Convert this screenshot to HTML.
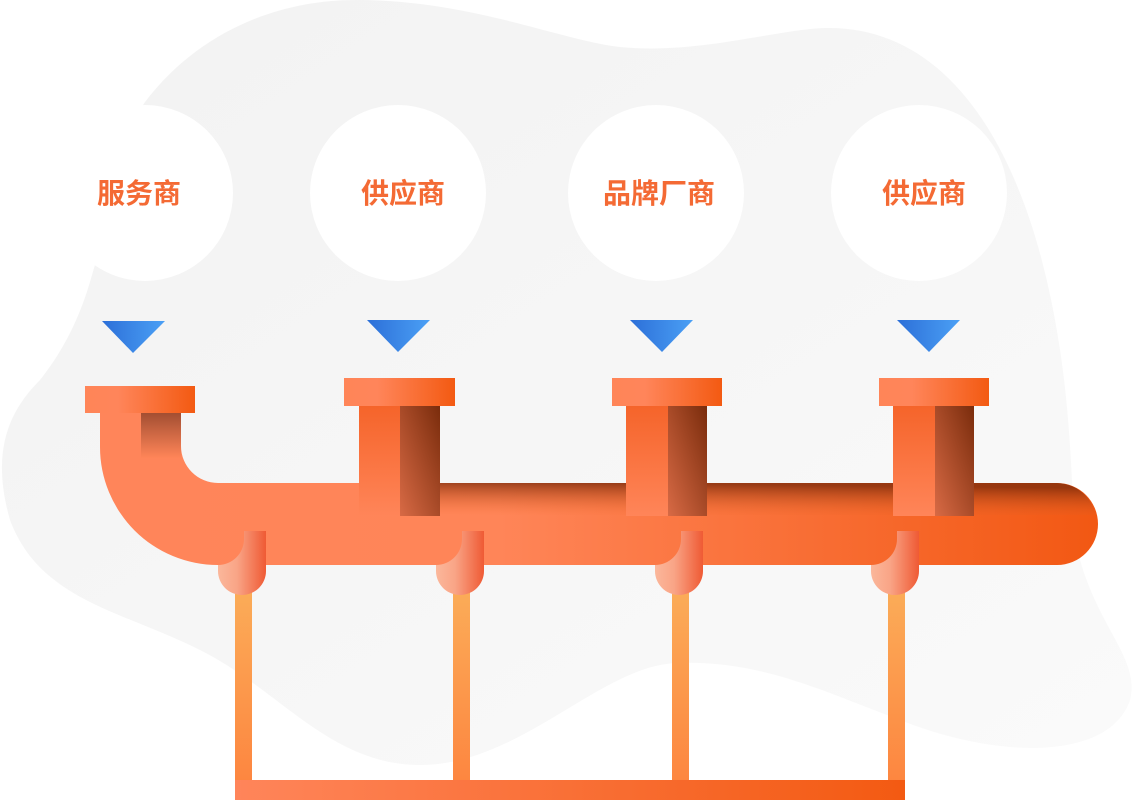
<!DOCTYPE html>
<html><head><meta charset="utf-8"><style>
html,body{margin:0;padding:0;background:#fff;width:1140px;height:800px;overflow:hidden}
svg text{font-family:"Liberation Sans","Noto Sans CJK SC",sans-serif;font-weight:bold;font-size:28px;fill:#f46a34}
</style></head><body>
<svg width="1140" height="800" viewBox="0 0 1140 800" xmlns="http://www.w3.org/2000/svg">
<defs>
<linearGradient id="blob" x1="0" y1="0" x2="1" y2="1"><stop offset="0" stop-color="#f2f2f2"/><stop offset="1" stop-color="#fafafa"/></linearGradient>
<linearGradient id="tri" x1="0" y1="0" x2="1" y2="0"><stop offset="0" stop-color="#2c6fd8"/><stop offset="1" stop-color="#4ba0f5"/></linearGradient>
<linearGradient id="fl" x1="0" y1="0" x2="1" y2="0"><stop offset="0" stop-color="#ff8558"/><stop offset="0.3" stop-color="#ff855a"/><stop offset="1" stop-color="#f35a12"/></linearGradient>
<linearGradient id="pipe" x1="0" y1="0" x2="1" y2="0"><stop offset="0" stop-color="#ff855a"/><stop offset="0.4" stop-color="#ff8558"/><stop offset="1" stop-color="#f25813"/></linearGradient>
<linearGradient id="top" x1="0" y1="1" x2="0.2" y2="0"><stop offset="0" stop-color="#f26a2a" stop-opacity="0"/><stop offset="1" stop-color="#7a2a0a" stop-opacity="0.85"/></linearGradient>
<linearGradient id="stem" x1="0" y1="0" x2="0" y2="1"><stop offset="0" stop-color="#f5642a"/><stop offset="1" stop-color="#ff8559"/></linearGradient>
<linearGradient id="dark" x1="1" y1="0" x2="0" y2="1"><stop offset="0" stop-color="#7a2c0c"/><stop offset="1" stop-color="#d86a45"/></linearGradient>
<linearGradient id="el" x1="0" y1="0" x2="0" y2="1"><stop offset="0" stop-color="#a34e32"/><stop offset="1" stop-color="#ff8558"/></linearGradient>
<linearGradient id="drop" x1="0" y1="0" x2="1" y2="0"><stop offset="0" stop-color="#fbb79b"/><stop offset="0.4" stop-color="#f9a486"/><stop offset="1" stop-color="#ef5a34"/></linearGradient>
<linearGradient id="leg" x1="0" y1="0" x2="0" y2="1"><stop offset="0" stop-color="#fbac58"/><stop offset="1" stop-color="#fd8640"/></linearGradient>
<linearGradient id="bar" x1="0" y1="0" x2="1" y2="0"><stop offset="0" stop-color="#ff855a"/><stop offset="1" stop-color="#f35a12"/></linearGradient>
</defs>
<path fill="url(#blob)" d="M145,102 C200,30 280,0 356,0 C470,0 560,40 620,47 C700,55 780,28 829,28 C950,28 1030,150 1060,350 C1075,450 1070,520 1080,560 C1100,630 1140,660 1130,700 C1110,760 1000,760 900,720 C820,690 760,660 676,663 C600,666 520,765 420,765 C330,765 280,690 200,650 C120,610 40,600 10,520 C-10,450 10,410 40,380 C80,330 90,280 95,265 C100,200 120,140 145,102Z"/>
<g fill="#fff">
<circle cx="145" cy="193" r="88"/><circle cx="398" cy="193" r="88"/><circle cx="656" cy="193" r="88"/><circle cx="919" cy="193" r="88"/>
</g>
<text x="139" y="203" text-anchor="middle">服务商</text>
<text x="403" y="203" text-anchor="middle">供应商</text>
<text x="659" y="203" text-anchor="middle">品牌厂商</text>
<text x="924" y="203" text-anchor="middle">供应商</text>
<g fill="url(#tri)">
<polygon points="102,321 165,321 133,353"/><polygon points="367,320 430,320 398,352"/><polygon points="630,320 693,320 662,352"/><polygon points="897,320 960,320 929,352"/>
</g>
<g fill="url(#leg)">
<rect x="235" y="590" width="17" height="192"/><rect x="453" y="590" width="17" height="192"/><rect x="672" y="590" width="17" height="192"/><rect x="888" y="590" width="17" height="192"/>
</g>
<rect x="235" y="780" width="670" height="20" fill="url(#bar)"/>
<path fill="url(#pipe)" d="M100,413 H181 V446 A37,37 0 0 0 218,483 H1057 A41,41 0 0 1 1057,565 H218 A118,118 0 0 1 100,447Z"/>
<path fill="url(#top)" d="M440,483 H1057 A41,41 0 0 1 1096,515 H440Z" opacity="0.9"/>
<rect x="141" y="413" width="40" height="45" fill="url(#el)"/>
<g fill="url(#drop)">
<path d="M244,531 H266 V571 A24,24 0 0 1 218,571 V565 A26,26 0 0 0 244,539Z"/>
<path d="M462,531 H484 V571 A24,24 0 0 1 436,571 V565 A26,26 0 0 0 462,539Z"/>
<path d="M681,531 H703 V571 A24,24 0 0 1 655,571 V565 A26,26 0 0 0 681,539Z"/>
<path d="M897,531 H919 V571 A24,24 0 0 1 871,571 V565 A26,26 0 0 0 897,539Z"/>
</g>
<rect x="359" y="406" width="81" height="110" fill="url(#stem)"/><rect x="400" y="406" width="40" height="110" fill="url(#dark)"/>
<rect x="626" y="406" width="81" height="110" fill="url(#stem)"/><rect x="668" y="406" width="39" height="110" fill="url(#dark)"/>
<rect x="893" y="406" width="81" height="110" fill="url(#stem)"/><rect x="935" y="406" width="39" height="110" fill="url(#dark)"/>
<g fill="url(#fl)">
<rect x="85" y="386" width="110" height="27"/><rect x="344" y="378" width="111" height="28"/><rect x="612" y="378" width="110" height="28"/><rect x="879" y="378" width="110" height="28"/>
</g>
</svg>
</body></html>
